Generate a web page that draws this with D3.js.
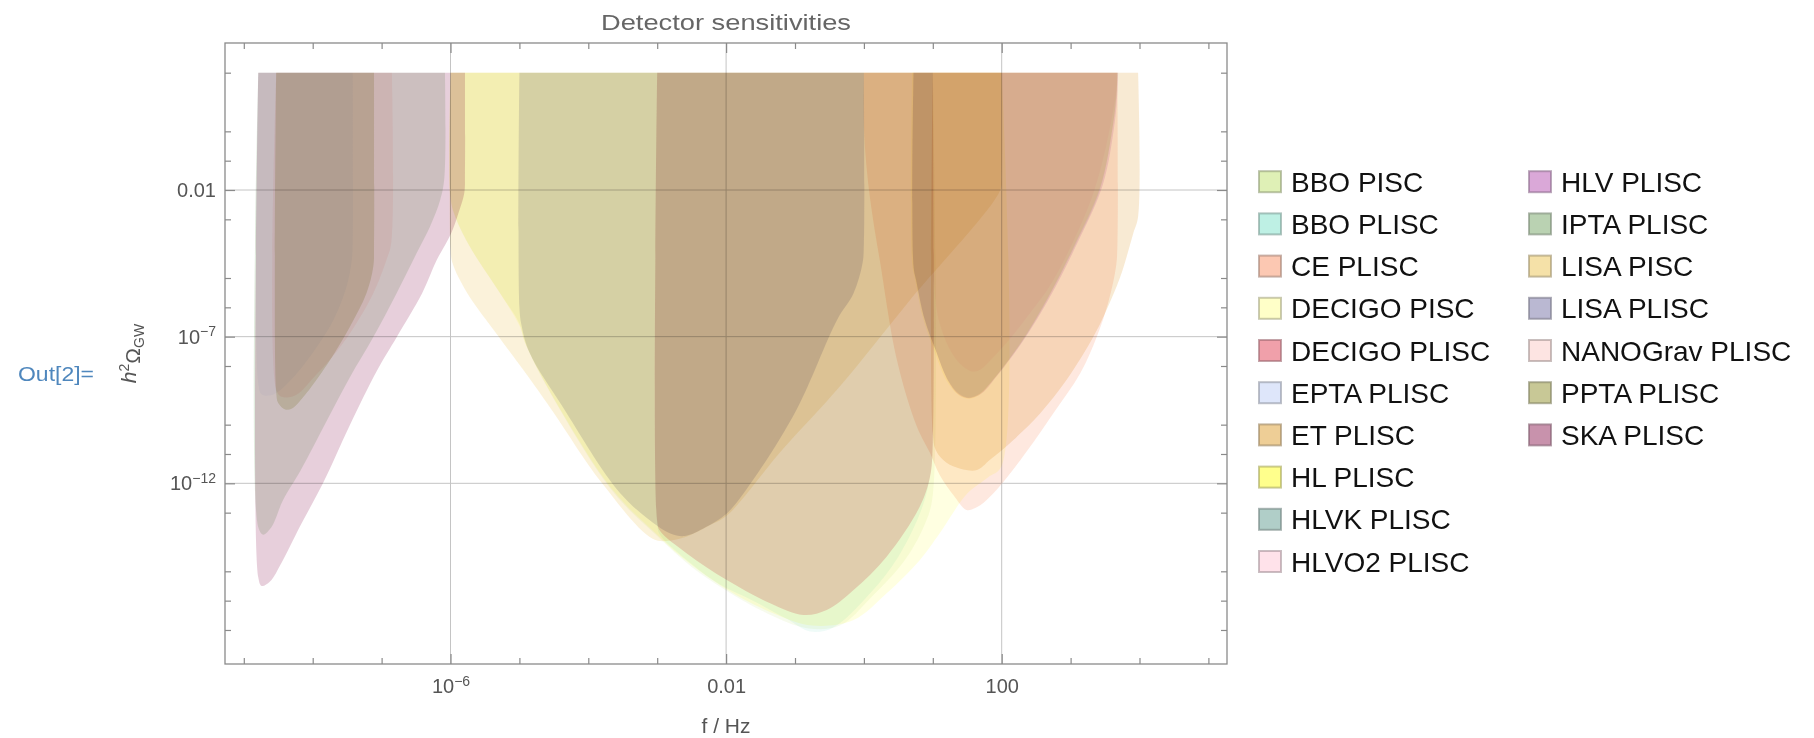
<!DOCTYPE html>
<html>
<head>
<meta charset="utf-8">
<title>Detector sensitivities</title>
<script src="https://cdnjs.cloudflare.com/ajax/libs/d3/7.8.5/d3.min.js"></script>
<style>
    body {
        margin: 0;
        background: #fff;
    }
    svg {
        font-family: "Liberation Sans", Arial, sans-serif;
        background: #fff;
    }
    .frame {
        fill: none;
        stroke: #8a8a8a;
        stroke-width: 1.3;
    }
    .grid line {
        stroke: #c4c4c4;
        stroke-width: 1;
    }
    .regions path {
        mix-blend-mode: multiply;
    }
    .axis path {
        display: none;
    }
    .axis line {
        stroke: #8a8a8a;
        stroke-width: 1.2;
    }
    .axis text {
        fill: #555;
        font-size: 20px;
        font-family: "Liberation Sans", Arial, sans-serif;
    }
    .legend text {
        font-size: 28px;
        fill: #111;
    }
</style>
</head>
<body>
<svg width="1814" height="738"></svg>
<script>
// every curve: lower edge of the region as [log10 f/Hz, log10 h^2 Omega], region filled up to 10^2
var bboPisc = [[-6, 2], [-6, -2.2], [-5.95, -2.8], [-5.74, -3.85], [-5.3, -5.45], [-5.0, -6.55], [-4.92, -7.2],
    [-4.47, -9.25], [-3.62, -12.35], [-3.0, -13.8], [-2.5, -14.85], [-2.0, -15.65], [-1.3, -16.55], [-0.8, -16.95],
    [-0.35, -16.85], [0.1, -15.9], [0.6, -14.6], [0.9, -13.3], [1.0, -12.4], [1.0, 2]];
var bboPlisc = [[-3.0, 2], [-3.0, -13.4], [-2.96, -13.75], [-2.5, -14.75], [-2.09, -15.45], [-1.61, -16.0],
    [-1.12, -16.62], [-0.78, -17.05], [-0.45, -16.92], [0.09, -15.75], [0.5, -14.5], [0.85, -12.8], [0.97, -11.6],
    [1.0, -10.6], [1.0, 2]];
var cePlisc = [[0.0, 2], [0.0, 0.15], [0.05, -1.5], [0.12, -2.8], [0.23, -4.39], [0.48, -7.8], [0.77, -10.07],
    [0.96, -10.97], [1.1, -11.72], [1.32, -12.47], [1.49, -12.91], [1.65, -12.8], [1.83, -12.46], [2.27, -11.21],
    [2.75, -9.61], [3.14, -8.25], [3.38, -7.0], [3.55, -5.8], [3.66, -4.6], [3.68, -3.8], [3.68, 2]];
var decigoPisc = [[-6, 2], [-6, -2.3], [-5.93, -2.9], [-5.72, -3.93], [-5.28, -5.52], [-5.0, -6.62], [-4.9, -7.3],
    [-4.45, -9.3], [-3.62, -12.3], [-3.0, -13.75], [-2.6, -14.6], [-2.0, -15.6], [-1.3, -16.45], [-0.75, -16.85],
    [-0.15, -16.66], [0.33, -15.75], [0.81, -14.62], [1.1, -13.7], [1.5, -12.35], [1.8, -11.8], [2.0, -11.4],
    [2.0, 2]];
var decigoPlisc = [[-3.0, 2], [-3.0, -13.3], [-2.96, -13.62], [-2.57, -14.39], [-1.99, -15.3], [-1.36, -16.09],
    [-0.88, -16.49], [-0.54, -16.32], [-0.15, -15.64], [0.33, -14.5], [0.81, -12.8], [0.96, -11.78], [1.0, -10.6],
    [1.0, 2]];
var eptaPlisc = [[-8.79, 2], [-8.79, -8.6], [-8.74, -8.97], [-8.6, -9.0], [-8.47, -8.82], [-8.23, -8.25],
    [-7.94, -7.34], [-7.7, -6.43], [-7.51, -5.3], [-7.43, -4.3], [-7.42, -3.6], [-7.42, 2]];
var etPlisc = [[1.0, 2], [1.0, -10.3], [1.05, -10.9], [1.2, -11.3], [1.4, -11.5], [1.64, -11.55], [1.83, -11.2],
    [2.17, -10.52], [2.56, -9.61], [2.94, -8.48], [3.33, -7.0], [3.5, -6.2], [3.72, -4.97], [3.91, -3.47],
    [3.98, -2.9], [3.98, 2]];
var hlPlisc = [[0.7, 2], [0.7, -4.5], [0.74, -5.0], [0.85, -6.3], [1.01, -7.4], [1.2, -8.5], [1.37, -8.98],
    [1.52, -9.12], [1.68, -8.98], [1.83, -8.6], [2.27, -7.23], [2.65, -5.75], [3.05, -3.9], [3.43, -1.9],
    [3.62, 0.3], [3.67, 1.4], [3.68, 2]];
var hlvkPlisc = [[0.72, 2], [0.72, -4.6], [0.76, -5.1], [0.88, -6.4], [1.04, -7.45], [1.22, -8.48], [1.38, -8.95],
    [1.52, -9.08], [1.68, -8.95], [1.83, -8.6], [2.27, -7.25], [2.65, -5.78], [3.05, -3.95], [3.43, -1.95],
    [3.62, 0.3], [3.67, 1.4], [3.68, 2]];
var hlvo2Plisc = [[1.0, 2], [1.0, -4.8], [1.01, -5.07], [1.1, -6.55], [1.35, -7.8], [1.61, -8.19], [1.93, -7.57],
    [2.41, -6.2], [2.75, -5.07], [3.33, -2.11], [3.62, 0.73], [3.67, 1.6], [3.67, 2]];
var hlvPlisc = [[0.72, 2], [0.72, -4.6], [0.76, -5.1], [0.88, -6.4], [1.04, -7.45], [1.22, -8.5], [1.38, -8.98],
    [1.53, -9.1], [1.7, -8.95], [1.86, -8.55], [2.31, -7.15], [2.7, -5.65], [3.1, -3.8], [3.47, -1.8],
    [3.64, 0.3], [3.68, 1.4], [3.69, 2]];
var iptaPlisc = [[-8.79, 2], [-8.79, -13.5], [-8.72, -13.75], [-8.6, -13.5], [-8.43, -12.57], [-8.18, -11.58],
    [-7.79, -9.84], [-7.46, -8.38], [-7.12, -7.01], [-6.78, -5.51], [-6.47, -4.05], [-6.3, -3.26], [-6.15, -2.34],
    [-6.09, -1.6], [-6.08, 2]];
var lisaPisc = [[-6, 2], [-6, -4.0], [-5.97, -4.5], [-5.76, -5.5], [-5.3, -7.0], [-4.86, -8.4], [-4.5, -9.6],
    [-3.8, -12.0], [-3.06, -13.9], [-2.8, -13.95], [-2.55, -13.8], [-2.25, -13.45], [-1.99, -13.1], [-1.2, -10.9],
    [-0.35, -8.7], [0.67, -5.75], [1.98, -2.0], [2.0, -1.5], [2.0, 2]];
var lisaPlisc = [[-5.0, 2], [-5.0, -6.0], [-4.97, -6.6], [-4.85, -7.56], [-4.37, -9.4], [-3.54, -12.33],
    [-3.0, -13.45], [-2.8, -13.72], [-2.6, -13.8], [-2.3, -13.5], [-1.99, -13.03], [-1.61, -11.89], [-0.98, -9.5],
    [-0.39, -6.43], [-0.15, -5.52], [-0.02, -4.5], [0.0, -3.8], [0.0, 2]];
var nanogravPlisc = [[-8.53, 2], [-8.53, -8.8], [-8.45, -9.05], [-8.25, -9.0], [-7.95, -8.3], [-7.72, -7.7],
    [-7.46, -6.89], [-7.12, -5.52], [-6.93, -4.39], [-6.86, -3.8], [-6.85, 2]];
var pptaPlisc = [[-8.53, 2], [-8.53, -8.9], [-8.5, -9.26], [-8.4, -9.48], [-8.3, -9.45], [-8.09, -8.92],
    [-7.75, -7.8], [-7.46, -6.66], [-7.22, -5.52], [-7.12, -4.6], [-7.11, -3.9], [-7.11, 2]];
var skaPlisc = [[-8.79, 2], [-8.79, -15.2], [-8.74, -15.5], [-8.62, -15.35], [-8.45, -14.7], [-8.18, -13.45],
    [-7.85, -11.99], [-7.46, -10.01], [-7.07, -8.17], [-6.78, -7.01], [-6.41, -5.51], [-6.2, -4.39],
    [-5.99, -3.47], [-5.88, -2.75], [-5.8, -2.1], [-5.79, -1.4], [-5.79, 2]];

var names = ["BBO PISC", "BBO PLISC", "CE PLISC", "DECIGO PISC", "DECIGO PLISC", "EPTA PLISC", "ET PLISC",
    "HL PLISC", "HLVK PLISC", "HLVO2 PLISC", "HLV PLISC", "IPTA PLISC", "LISA PISC", "LISA PLISC",
    "NANOGrav PLISC", "PPTA PLISC", "SKA PLISC"];
var curves = [bboPisc, bboPlisc, cePlisc, decigoPisc, decigoPlisc, eptaPlisc, etPlisc, hlPlisc, hlvkPlisc,
    hlvo2Plisc, hlvPlisc, iptaPlisc, lisaPisc, lisaPlisc, nanogravPlisc, pptaPlisc, skaPlisc];
var colours = ["#dff0b6", "#bef0e4", "#fcc8b2", "#ffffc8", "#f0a0aa", "#dee6fa", "#eece96", "#ffff8c",
    "#b0cec8", "#ffe2ea", "#daa8d8", "#bad2b2", "#f5e1a8", "#bab8d2", "#fde4e2", "#c8c896", "#c892ac"];
// how strongly each film tints what lies under it
var opacities = [0.25, 0.25, 0.42, 0.55, 0.45, 0.25, 0.42, 0.25, 0.25, 0.35, 0.35, 0.42, 0.42, 0.45, 0.55, 0.45, 0.44];

// log10 tick positions
var xMajor = [-6, -2, 2];
var xMinor = [-9, -8, -7, -5, -4, -3, -1, 0, 1, 3, 4, 5];
var xLabels = [["10", "\u22126"], ["0.01", ""], ["100", ""]];
var yMajor = [-2, -7, -12];
var yMinor = [2, 0, -1, -3, -5, -6, -8, -10, -11, -13, -15, -16, -17];
var yLabels = [["0.01", ""], ["10", "\u22127"], ["10", "\u221212"]];

var pow = function(e) { return Math.pow(10, e); };

var svg = d3.select("svg");
var plotL = 225, plotR = 1227, plotT = 43, plotB = 664;

var x = d3.scaleLog().domain([pow(-9.273), pow(5.27)]).range([plotL, plotR]);
var y = d3.scaleLog().domain([pow(-18.16), pow(3.012)]).range([plotB, plotT]);

// white backdrop so the multiply blend works against paper
svg.append("rect").attr("width", 1814).attr("height", 738).style("fill", "#fff");

// grid lines
var grid = svg.append("g").attr("class", "grid");
grid.selectAll(".gx").data(xMajor).enter().append("line")
    .attr("x1", function(d) { return x(pow(d)); })
    .attr("x2", function(d) { return x(pow(d)); })
    .attr("y1", plotT).attr("y2", plotB);
grid.selectAll(".gy").data(yMajor).enter().append("line")
    .attr("y1", function(d) { return y(pow(d)); })
    .attr("y2", function(d) { return y(pow(d)); })
    .attr("x1", plotL).attr("x2", plotR);

// filled regions, translucent like stacked films
var area = d3.line()
    .x(function(d) { return x(pow(d[0])); })
    .y(function(d) { return y(pow(d[1])); })
    .curve(d3.curveCatmullRom.alpha(0.5));

svg.append("g").attr("class", "regions").selectAll("path")
    .data(curves)
    .enter()
    .append("path")
    .attr("d", function(d) { return area(d) + "Z"; })
    .style("fill", function(d, i) { return colours[i]; })
    .style("fill-opacity", function(d, i) { return opacities[i]; })
    .style("stroke", "none");

// axes: minor and major ticks on all four sides
function addAxis(axisFn, scale, values, size, transform, labels) {
    var ax = axisFn(scale).tickValues(values.map(pow)).tickSizeInner(-size).tickSizeOuter(0);
    if (labels) {
        ax.tickPadding(axisFn === d3.axisBottom ? 15 : 9);
    } else {
        ax.tickFormat("");
    }
    var g = svg.append("g").attr("class", "axis").attr("transform", transform).call(ax);
    if (labels) {
        g.selectAll(".tick text").each(function(d, i) {
            var t = d3.select(this).text("");
            t.append("tspan").text(labels[i][0]);
            if (labels[i][1]) {
                t.append("tspan").attr("dy", "-0.55em").style("font-size", "14px").text(labels[i][1]);
            }
        });
    }
    return g;
}

addAxis(d3.axisBottom, x, xMinor, 6, "translate(0," + plotB + ")");
addAxis(d3.axisBottom, x, xMajor, 10, "translate(0," + plotB + ")", xLabels);
addAxis(d3.axisTop, x, xMinor, 6, "translate(0," + plotT + ")");
addAxis(d3.axisTop, x, xMajor, 10, "translate(0," + plotT + ")");
addAxis(d3.axisLeft, y, yMinor, 6, "translate(" + plotL + ",0)");
addAxis(d3.axisLeft, y, yMajor, 10, "translate(" + plotL + ",0)", yLabels);
addAxis(d3.axisRight, y, yMinor, 6, "translate(" + plotR + ",0)");
addAxis(d3.axisRight, y, yMajor, 10, "translate(" + plotR + ",0)");

svg.append("rect").attr("class", "frame")
    .attr("x", plotL).attr("y", plotT)
    .attr("width", plotR - plotL).attr("height", plotB - plotT);

// title and axis labels
svg.append("text")
    .attr("x", (plotL + plotR) / 2).attr("y", 30)
    .attr("text-anchor", "middle")
    .attr("textLength", 250).attr("lengthAdjust", "spacingAndGlyphs")
    .style("font-size", "22px").style("fill", "#666")
    .text("Detector sensitivities");

svg.append("text")
    .attr("x", (plotL + plotR) / 2).attr("y", 733)
    .attr("text-anchor", "middle")
    .style("font-size", "21px").style("fill", "#555")
    .text("f / Hz");

var ylab = svg.append("text")
    .attr("transform", "translate(136," + ((plotT + plotB) / 2) + ") rotate(-90)")
    .attr("text-anchor", "middle")
    .style("font-size", "21px").style("fill", "#555");
ylab.append("tspan").style("font-style", "italic").text("h");
ylab.append("tspan").attr("dy", "-0.5em").style("font-size", "14px").text("2");
ylab.append("tspan").attr("dy", "0.5em").text("\u03A9");
ylab.append("tspan").attr("dy", "0.3em").style("font-size", "14px").text("GW");

svg.append("text")
    .attr("x", 18).attr("y", 381)
    .attr("textLength", 76).attr("lengthAdjust", "spacingAndGlyphs")
    .style("font-size", "20px").style("fill", "#4f87bd")
    .text("Out[2]=");

// legend, two columns
var legend = svg.append("g").attr("class", "legend");
var items = legend.selectAll("g")
    .data(names)
    .enter()
    .append("g")
    .attr("transform", function(d, i) {
        var col = i < 10 ? 0 : 1;
        var row = i < 10 ? i : i - 10;
        return "translate(" + (1259 + col * 270) + "," + (181.7 + row * 42.2) + ")";
    });

items.append("rect")
    .attr("x", 0).attr("y", -10.5)
    .attr("width", 22).attr("height", 21)
    .style("fill", function(d, i) { return colours[i]; })
    .style("stroke", function(d, i) { return d3.color(colours[i]).darker(1.2); })
    .style("stroke-opacity", 0.6)
    .style("stroke-width", 2);

items.append("text")
    .attr("x", 32).attr("y", 10)
    .text(function(d) { return d; });
</script>
</body>
</html>
